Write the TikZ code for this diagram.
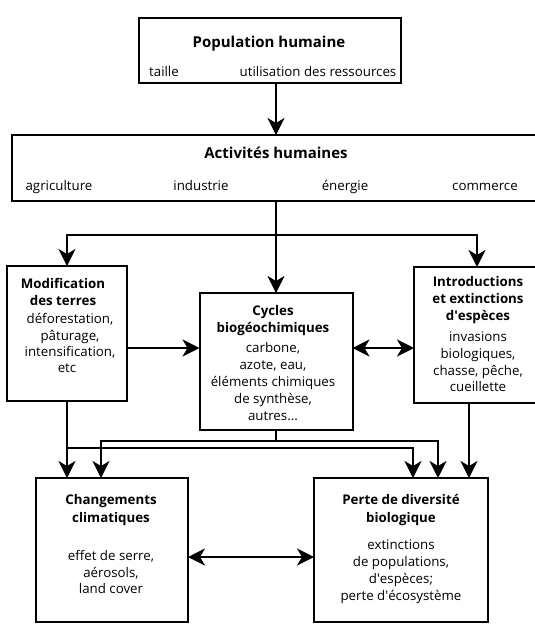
\documentclass[tikz,border=0pt]{standalone}
\usepackage{fontspec}
\setmainfont{Open Sans}
\usetikzlibrary{arrows.meta}
\begin{document}
\begin{tikzpicture}[x=1pt,y=-1pt,
  box/.style={draw,line width=2pt,inner sep=0,outer sep=0},
  ln/.style={line width=2pt},
  tip/.tip={Stealth[length=17pt,width=17pt,inset=5pt]},
  arr/.style={ln,-tip},
  darr/.style={ln,tip-tip},
  tx/.style={inner sep=0,text height=9.5pt,text depth=2.5pt,font=\fontsize{13.3}{16}\selectfont},
  bt/.style={tx,font=\fontsize{13.3}{16}\selectfont\bfseries},
  ht/.style={tx,font=\fontsize{15}{18}\selectfont\bfseries}]
\useasboundingbox (0,0) rectangle (535,625);
\begin{scope}
\clip (0,0) rectangle (535,625);
% boxes
\node[box,minimum width=262pt,minimum height=65pt] (pop) at (270,50.5) {};
\node[box,minimum width=528pt,minimum height=66pt] (act) at (276,168) {};
\node[box,minimum width=120pt,minimum height=135pt] (mod) at (67,333.5) {};
\node[box,minimum width=153pt,minimum height=137pt] (cyc) at (276,361.5) {};
\node[box,minimum width=126pt,minimum height=136pt] (intro) at (477,335) {};
\node[box,minimum width=152pt,minimum height=144pt] (chg) at (112,550) {};
\node[box,minimum width=174pt,minimum height=144pt] (per) at (401,550) {};
% texts
\node[ht] (t1) at (269,44) {Population humaine};
\node[tx] (t2) at (164,73) {taille};
\node[tx] (t3) at (318,73) {utilisation des ressources};
\node[ht] (t4) at (276,155) {Activités humaines};
\node[tx] (t5) at (59,187) {agriculture};
\node[tx] (t6) at (201,187) {industrie};
\node[tx] (t7) at (345,187) {énergie};
\node[tx] (t8) at (485,187) {commerce};
\node[bt] (m1) at (63,285) {Modification};
\node[bt] (m2) at (63,302) {des terres};
\node[tx] (m3) at (70,320) {déforestation,};
\node[tx] (m4) at (70,337) {pâturage,};
\node[tx] (m5) at (70,353) {intensification,};
\node[tx] (m6) at (67,369) {etc};
\node[bt] (c1) at (273,312) {Cycles};
\node[bt] (c2) at (273,329) {biogéochimiques};
\node[tx] (c3) at (273,349) {carbone,};
\node[tx] (c4) at (273,366) {azote, eau,};
\node[tx] (c5) at (273,383) {éléments chimiques};
\node[tx] (c6) at (273,400) {de synthèse,};
\node[tx] (c7) at (273,417) {autres...};
\node[bt] (i1) at (478,283) {Introductions};
\node[bt] (i2) at (478,300) {et extinctions};
\node[bt] (i3) at (478,317) {d\textquotesingle espèces};
\node[tx] (i4) at (478,338) {invasions};
\node[tx] (i5) at (478,355) {biologiques,};
\node[tx] (i6) at (478,372) {chasse, pêche,};
\node[tx] (i7) at (478,388) {cueillette};
\node[bt] (g1) at (111,501) {Changements};
\node[bt] (g2) at (111,519) {climatiques};
\node[tx] (g3) at (111,557) {effet de serre,};
\node[tx] (g4) at (111,574) {aérosols,};
\node[tx] (g5) at (111,590) {land cover};
\node[bt] (p1) at (401,501) {Perte de diversité};
\node[bt] (p2) at (401,519) {biologique};
\node[tx] (p3) at (401,546) {extinctions};
\node[tx] (p4) at (401,563) {de populations,};
\node[tx] (p5) at (401,580) {d\textquotesingle espèces;};
\node[tx] (p6) at (401,597) {perte d\textquotesingle écosystème};
% helper coordinates
\coordinate (j1) at (276,235);
\coordinate (ay) at (0,348);
\coordinate (l1) at (0,441);
\coordinate (l2) at (0,448);
\coordinate (by) at (0,557);
\coordinate (xa) at (101,0);
\coordinate (xb) at (413,0);
\coordinate (xc) at (438,0);
\coordinate (xd) at (469,0);
% connectors
\draw[arr] (act.north |- pop.south) -- (act.north);
\draw[ln] (act.south) -- (j1);
\draw[arr] (j1) -| (mod.north);
\draw[arr] (j1) -| (intro.north);
\draw[arr] (j1) -- (cyc.north);
\draw[arr] (mod.east |- ay) -- (cyc.west |- ay);
\draw[darr] (cyc.east |- ay) -- (intro.west |- ay);
\draw[arr] (mod.south) -- (mod.south |- chg.north);
\draw[arr] (mod.south |- l2) -| (xb |- per.north);
\draw[ln] (cyc.south) -- (cyc.south |- l1);
\draw[arr] (cyc.south |- l1) -| (xa |- chg.north);
\draw[arr] (cyc.south |- l1) -| (xc |- per.north);
\draw[arr] (xd |- intro.south) -- (xd |- per.north);
\draw[darr] (chg.east |- by) -- (per.west |- by);
\end{scope}
\end{tikzpicture}
\end{document}
